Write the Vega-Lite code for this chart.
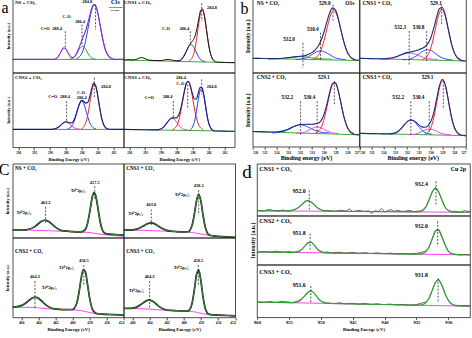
{
"$schema":"https://vega.github.io/schema/vega-lite/v6.json",
"padding":{"left":-2.3,"top":-2.3,"right":0,"bottom":0},
"config":{
 "view":{"stroke":"#222","strokeWidth":0.8},
 "axis":{"grid":false,"domain":false,"labelFont":"Liberation Serif","titleFont":"Liberation Serif","labelFontWeight":"bold","titleFontWeight":"bold","labelColor":"#000","titleColor":"#000","tickColor":"#000","tickWidth":0.7},
 "line":{"interpolate":"monotone","clip":true,"strokeWidth":1},
 "rule":{"strokeDash":[2,1.5],"strokeWidth":0.7,"color":"#111"},
 "text":{"font":"Liberation Serif","fontWeight":"bold","baseline":"middle","color":"#000"}
},
"datasets":{
"a1_comp":[{"s":"bg","x":294.7,"y":18},{"s":"bg","x":280.7,"y":18},
{"s":"CO","x":287.55,"y":18.2},{"s":"CO","x":287.0,"y":20.4},{"s":"CO","x":286.725,"y":23.8},{"s":"CO","x":286.45,"y":28.9},{"s":"CO","x":286.175,"y":33.9},{"s":"CO","x":285.9,"y":36},{"s":"CO","x":285.625,"y":33.9},{"s":"CO","x":285.35,"y":28.9},{"s":"CO","x":285.075,"y":23.8},{"s":"CO","x":284.8,"y":20.4},{"s":"CO","x":284.25,"y":18.2},
{"s":"CC","x":286.65,"y":18.8},{"s":"CC","x":285.9,"y":28},{"s":"CC","x":285.525,"y":42},{"s":"CC","x":285.15,"y":62.9},{"s":"CC","x":284.775,"y":83.3},{"s":"CC","x":284.4,"y":92},{"s":"CC","x":284.025,"y":83.3},{"s":"CC","x":283.65,"y":62.9},{"s":"CC","x":283.275,"y":42},{"s":"CC","x":282.9,"y":28},{"s":"CC","x":282.15,"y":18.8}],
"a1_fit":[{"x":294.7,"y":18},{"x":293,"y":18},{"x":291,"y":18},{"x":290,"y":18},{"x":289.5,"y":18.2},{"x":289,"y":21.2},{"x":288.75,"y":25.4},{"x":288.5,"y":30.5},{"x":288.25,"y":33.5},{"x":288,"y":32.1},{"x":287.75,"y":27.6},{"x":287.5,"y":22.9},{"x":287.25,"y":20.6},{"x":287,"y":21},{"x":286.75,"y":24.1},{"x":286.5,"y":29.4},{"x":286.25,"y":36.2},{"x":286,"y":43.3},{"x":285.75,"y":49.9},{"x":285.5,"y":57},{"x":285.25,"y":65.8},{"x":285,"y":76.4},{"x":284.75,"y":86.4},{"x":284.5,"y":92},{"x":284.25,"y":90.7},{"x":284,"y":82.2},{"x":283.75,"y":68.8},{"x":283.5,"y":54},{"x":283.25,"y":40.8},{"x":283,"y":31},{"x":282.5,"y":21},{"x":282,"y":18.4},{"x":281.5,"y":18},{"x":280.7,"y":18}],
"a1_dash":[{"x":288.06,"y":56,"y2":34},{"x":285.96,"y":65,"y2":38},{"x":284.25,"y":92,"y2":58}],
"a1_text":[{"k":"ttl","x":294.42,"y":95.5,"t":"NS + CO₂"},{"k":"lab","x":290.6,"y":59.6,"t":"C=O"},{"k":"lab","x":289.1,"y":59.6,"t":"288.4"},{"k":"lab","x":287.9,"y":75,"t":"C-O"},{"k":"lab","x":286.2,"y":68.6,"t":"286.4"},{"k":"lab","x":285.3,"y":95.5,"t":"284.8"},{"k":"rt","x":281.2,"y":95.5,"t":"C1s"},{"k":"small","x":281.8,"y":89,"t":"Adventitious"},{"k":"small","x":281.8,"y":84.5,"t":"carbon"},{"k":"letter","x":295.67,"y":80,"t":"a"}],
"a2_comp":[{"s":"bg","x":294.7,"y":17},{"s":"bg","x":280.7,"y":13.5},
{"s":"CO","x":288,"y":15.6},{"s":"CO","x":287.4,"y":18.2},{"s":"CO","x":287.1,"y":22.5},{"s":"CO","x":286.8,"y":28.9},{"s":"CO","x":286.5,"y":35.2},{"s":"CO","x":286.2,"y":37.9},{"s":"CO","x":285.9,"y":35.2},{"s":"CO","x":285.6,"y":28.7},{"s":"CO","x":285.3,"y":22.2},{"s":"CO","x":285,"y":17.7},{"s":"CO","x":284.4,"y":14.7},
{"s":"CC","x":286.45,"y":15.7},{"s":"CC","x":285.9,"y":24.3},{"s":"CC","x":285.625,"y":37.7},{"s":"CC","x":285.35,"y":57.5},{"s":"CC","x":285.075,"y":76.9},{"s":"CC","x":284.8,"y":85.2},{"s":"CC","x":284.525,"y":76.9},{"s":"CC","x":284.25,"y":57.3},{"s":"CC","x":283.975,"y":37.3},{"s":"CC","x":283.7,"y":24},{"s":"CC","x":283.15,"y":15}],
"a2_fit":[{"x":294.7,"y":17},{"x":294,"y":17.6},{"x":293.5,"y":17.2},{"x":293,"y":18.5},{"x":292.5,"y":20.5},{"x":292,"y":19},{"x":291.5,"y":17},{"x":291,"y":16.5},{"x":290,"y":16.3},{"x":289.5,"y":17.5},{"x":289,"y":17.8},{"x":288.5,"y":16.8},{"x":288,"y":16},{"x":287.75,"y":16.1},{"x":287.5,"y":17.4},{"x":287.25,"y":20.1},{"x":287,"y":24.6},{"x":286.75,"y":30.2},{"x":286.5,"y":35.8},{"x":286.25,"y":40.1},{"x":286,"y":43.1},{"x":285.75,"y":48.1},{"x":285.5,"y":57.8},{"x":285.25,"y":71.8},{"x":285,"y":83.9},{"x":284.75,"y":86.1},{"x":284.5,"y":75.8},{"x":284.25,"y":57.4},{"x":284,"y":38.8},{"x":283.75,"y":25.7},{"x":283.5,"y":18.5},{"x":283.25,"y":15.5},{"x":283,"y":14.4},{"x":282.5,"y":14},{"x":282,"y":13.8},{"x":281.5,"y":13.7},{"x":280.7,"y":13.5}],
"a2_dash":[{"x":286.3,"y":56,"y2":40.4},{"x":284.86,"y":94,"y2":69.5}],
"a2_text":[{"k":"ttl","x":294.63,"y":95.5,"t":"CNS1 + CO₂"},{"k":"lab","x":289.37,"y":59.6,"t":"C-O"},{"k":"lab","x":287.05,"y":59.6,"t":"286.4"},{"k":"lab","x":283.56,"y":87.4,"t":"284.8"}],
"a3_comp":[{"s":"bg","x":294.7,"y":24},{"s":"bg","x":280.7,"y":24},
{"s":"C=O","x":289.8,"y":24.1},{"s":"C=O","x":289.2,"y":25.4},{"s":"C=O","x":288.9,"y":27.2},{"s":"C=O","x":288.6,"y":30.1},{"s":"C=O","x":288.3,"y":32.8},{"s":"C=O","x":288,"y":34},{"s":"C=O","x":287.7,"y":32.8},{"s":"C=O","x":287.4,"y":30.1},{"s":"C=O","x":287.1,"y":27.2},{"s":"C=O","x":286.8,"y":25.4},{"s":"C=O","x":286.2,"y":24.1},
{"s":"CO","x":287.8,"y":24.4},{"s":"CO","x":287.2,"y":29.1},{"s":"CO","x":286.9,"y":36.3},{"s":"CO","x":286.6,"y":47},{"s":"CO","x":286.3,"y":57.5},{"s":"CO","x":286,"y":62},{"s":"CO","x":285.7,"y":57.5},{"s":"CO","x":285.4,"y":47},{"s":"CO","x":285.1,"y":36.3},{"s":"CO","x":284.8,"y":29.1},{"s":"CO","x":284.2,"y":24.4},
{"s":"CC","x":286.05,"y":24.7},{"s":"CC","x":285.5,"y":32.3},{"s":"CC","x":285.225,"y":43.8},{"s":"CC","x":284.95,"y":61},{"s":"CC","x":284.675,"y":77.8},{"s":"CC","x":284.4,"y":85},{"s":"CC","x":284.125,"y":77.8},{"s":"CC","x":283.85,"y":61},{"s":"CC","x":283.575,"y":43.8},{"s":"CC","x":283.3,"y":32.3},{"s":"CC","x":282.75,"y":24.7}],
"a3_fit":[{"x":294.7,"y":24},{"x":292,"y":24},{"x":290.5,"y":24},{"x":290,"y":24},{"x":289.5,"y":24.4},{"x":289.25,"y":25.1},{"x":289,"y":26.5},{"x":288.75,"y":28.6},{"x":288.5,"y":31.1},{"x":288.25,"y":33.2},{"x":288,"y":34.2},{"x":287.75,"y":33.7},{"x":287.5,"y":32.8},{"x":287.25,"y":32.9},{"x":287,"y":36},{"x":286.75,"y":42.5},{"x":286.5,"y":51.3},{"x":286.25,"y":59.1},{"x":286,"y":62.9},{"x":285.75,"y":61.8},{"x":285.5,"y":59.2},{"x":285.25,"y":59.9},{"x":285,"y":67.1},{"x":284.75,"y":78.1},{"x":284.5,"y":85.7},{"x":284.25,"y":83.3},{"x":284,"y":71},{"x":283.75,"y":54.3},{"x":283.5,"y":40},{"x":283.25,"y":30.9},{"x":283,"y":26.4},{"x":282.75,"y":24.7},{"x":282.5,"y":24.1},{"x":281,"y":24},{"x":280.7,"y":24}],
"a3_dash":[{"x":287.9,"y":61.9,"y2":35},{"x":284.4,"y":93.3,"y2":66.4}],
"a3_text":[{"k":"ttl","x":294.42,"y":94.2,"t":"CNS2 + CO₂"},{"k":"lab","x":289.66,"y":67.7,"t":"C=O"},{"k":"lab","x":288.1,"y":67.7,"t":"288.4"},{"k":"lab","x":286.08,"y":73,"t":"C-O"},{"k":"lab","x":286.0,"y":66,"t":"286.4"},{"k":"lab","x":282.93,"y":80.7,"t":"284.8"}],
"a4_comp":[{"s":"bg","x":294.8,"y":24},{"s":"bg","x":280.7,"y":21.5},
{"s":"C=O","x":290.55,"y":23},{"s":"C=O","x":289.9,"y":25.1},{"s":"C=O","x":289.575,"y":28.1},{"s":"C=O","x":289.25,"y":32.6},{"s":"C=O","x":288.925,"y":37},{"s":"C=O","x":288.6,"y":38.9},{"s":"C=O","x":288.275,"y":37},{"s":"C=O","x":287.95,"y":32.6},{"s":"C=O","x":287.625,"y":28.1},{"s":"C=O","x":287.3,"y":25.1},{"s":"C=O","x":286.65,"y":23},
{"s":"CO","x":288.55,"y":23.2},{"s":"CO","x":287.9,"y":31.4},{"s":"CO","x":287.575,"y":43.9},{"s":"CO","x":287.25,"y":62.5},{"s":"CO","x":286.925,"y":80.7},{"s":"CO","x":286.6,"y":88.5},{"s":"CO","x":286.275,"y":80.7},{"s":"CO","x":285.95,"y":62.5},{"s":"CO","x":285.625,"y":43.9},{"s":"CO","x":285.3,"y":31.4},{"s":"CO","x":284.65,"y":23.2},
{"s":"CC","x":286.4,"y":22.8},{"s":"CC","x":285.9,"y":29.9},{"s":"CC","x":285.65,"y":40.7},{"s":"CC","x":285.4,"y":56.8},{"s":"CC","x":285.15,"y":72.5},{"s":"CC","x":284.9,"y":79.2},{"s":"CC","x":284.65,"y":72.5},{"s":"CC","x":284.4,"y":56.8},{"s":"CC","x":284.15,"y":40.7},{"s":"CC","x":283.9,"y":29.9},{"s":"CC","x":283.4,"y":22.8}],
"a4_fit":[{"x":294.8,"y":24},{"x":292.3,"y":23.5},{"x":290.8,"y":23.3},{"x":290.3,"y":23.7},{"x":289.8,"y":26},{"x":289.55,"y":28.5},{"x":289.3,"y":32},{"x":289.05,"y":35.6},{"x":288.8,"y":38.4},{"x":288.55,"y":39.5},{"x":288.3,"y":39.4},{"x":288.05,"y":39.4},{"x":287.8,"y":42.2},{"x":287.55,"y":49.7},{"x":287.3,"y":61.8},{"x":287.05,"y":75.4},{"x":286.8,"y":85.9},{"x":286.55,"y":88.6},{"x":286.3,"y":82.9},{"x":286.05,"y":72.5},{"x":285.8,"y":64.7},{"x":285.55,"y":64.7},{"x":285.3,"y":72.6},{"x":285.05,"y":80.5},{"x":284.8,"y":79.5},{"x":284.55,"y":67.2},{"x":284.3,"y":49.9},{"x":284.05,"y":35.4},{"x":283.8,"y":27.1},{"x":283.55,"y":23.4},{"x":283.3,"y":22.2},{"x":282.8,"y":21.8},{"x":281.8,"y":21.6},{"x":280.7,"y":21.5}],
"a4_dash":[{"x":288.44,"y":61.9,"y2":39.5},{"x":286.63,"y":84,"y2":52.9},{"x":284.86,"y":91,"y2":70.9}],
"a4_text":[{"k":"ttl","x":294.63,"y":94.2,"t":"CNS3 + CO₂"},{"k":"lab","x":287.47,"y":93,"t":"286.4"},{"k":"lab","x":287.56,"y":85.5,"t":"C-O"},{"k":"lab","x":291.47,"y":65.5,"t":"C=O"},{"k":"lab","x":289.16,"y":67.3,"t":"288.4"},{"k":"lab","x":283.6,"y":80.7,"t":"284.8"}],
"b1_comp":[{"s":"bg","x":536,"y":19.5},{"s":"bg","x":527,"y":16.5},
{"s":"O532","x":534.7,"y":18.2},{"s":"O532","x":533.8,"y":18.7},{"s":"O532","x":533.35,"y":19.3},{"s":"O532","x":532.9,"y":20.3},{"s":"O532","x":532.45,"y":21.3},{"s":"O532","x":532,"y":21.7},{"s":"O532","x":531.55,"y":21.3},{"s":"O532","x":531.1,"y":20.3},{"s":"O532","x":530.65,"y":19.3},{"s":"O532","x":530.2,"y":18.7},{"s":"O532","x":529.3,"y":18.2},
{"s":"O530","x":532.35,"y":17.7},{"s":"O530","x":531.65,"y":19.2},{"s":"O530","x":531.3,"y":21.5},{"s":"O530","x":530.95,"y":24.9},{"s":"O530","x":530.6,"y":28.2},{"s":"O530","x":530.25,"y":29.6},{"s":"O530","x":529.9,"y":28.2},{"s":"O530","x":529.55,"y":24.9},{"s":"O530","x":529.2,"y":21.5},{"s":"O530","x":528.85,"y":19.2},{"s":"O530","x":528.15,"y":17.7},
{"s":"O529","x":530.95,"y":17.9},{"s":"O529","x":530.35,"y":26.3},{"s":"O529","x":530.05,"y":39},{"s":"O529","x":529.75,"y":57.8},{"s":"O529","x":529.45,"y":76.3},{"s":"O529","x":529.15,"y":84.2},{"s":"O529","x":528.85,"y":76.3},{"s":"O529","x":528.55,"y":57.8},{"s":"O529","x":528.25,"y":39},{"s":"O529","x":527.95,"y":26.3},{"s":"O529","x":527.35,"y":17.9}],
"b1_fit":[{"x":536,"y":19.5},{"x":535,"y":19.2},{"x":534.5,"y":19.1},{"x":534,"y":19.1},{"x":533.5,"y":19.5},{"x":533,"y":20.4},{"x":532.5,"y":21.4},{"x":532,"y":22.2},{"x":531.5,"y":23.4},{"x":531.25,"y":24.9},{"x":531,"y":27.1},{"x":530.75,"y":30.3},{"x":530.5,"y":35.1},{"x":530.25,"y":42.5},{"x":530,"y":53.6},{"x":529.75,"y":67.6},{"x":529.5,"y":80.7},{"x":529.25,"y":87.6},{"x":529,"y":84.5},{"x":528.75,"y":72},{"x":528.5,"y":54.7},{"x":528.25,"y":38.9},{"x":528,"y":27.5},{"x":527.75,"y":21.2},{"x":527.5,"y":18.2},{"x":527.25,"y":17.1},{"x":527,"y":16.6}],
"b1_dash":[{"x":529.21,"y":92,"y2":69.8},{"x":530.27,"y":54,"y2":15.8},{"x":531.75,"y":40.5,"y2":6.8}],
"b1_text":[{"k":"ttl","x":535.66,"y":94.5,"t":"NS + CO₂"},{"k":"rt","x":527.4,"y":94.5,"t":"O1s"},{"k":"lab","x":529.91,"y":94.5,"t":"529.0"},{"k":"lab","x":530.92,"y":58.6,"t":"530.4"},{"k":"lab","x":532.93,"y":45,"t":"532.0"},{"k":"letter","x":536.7,"y":79.3,"t":"b"}],
"b2_comp":[{"s":"bg","x":536,"y":19.4},{"s":"bg","x":527,"y":15.8},
{"s":"O532","x":534.2,"y":17.8},{"s":"O532","x":533.4,"y":18.9},{"s":"O532","x":533,"y":20.6},{"s":"O532","x":532.6,"y":23.2},{"s":"O532","x":532.2,"y":25.6},{"s":"O532","x":531.8,"y":26.7},{"s":"O532","x":531.4,"y":25.6},{"s":"O532","x":531,"y":23.2},{"s":"O532","x":530.6,"y":20.6},{"s":"O532","x":530.2,"y":18.9},{"s":"O532","x":529.4,"y":17.8},
{"s":"O530","x":532.35,"y":17.3},{"s":"O530","x":531.65,"y":19},{"s":"O530","x":531.3,"y":21.6},{"s":"O530","x":530.95,"y":25.6},{"s":"O530","x":530.6,"y":29.5},{"s":"O530","x":530.25,"y":31.1},{"s":"O530","x":529.9,"y":29.5},{"s":"O530","x":529.55,"y":25.6},{"s":"O530","x":529.2,"y":21.6},{"s":"O530","x":528.85,"y":19},{"s":"O530","x":528.15,"y":17.3},
{"s":"O529","x":530.7,"y":17.4},{"s":"O529","x":530.15,"y":25.9},{"s":"O529","x":529.875,"y":39},{"s":"O529","x":529.6,"y":58.4},{"s":"O529","x":529.325,"y":77.5},{"s":"O529","x":529.05,"y":85.6},{"s":"O529","x":528.775,"y":77.5},{"s":"O529","x":528.5,"y":58.4},{"s":"O529","x":528.225,"y":39},{"s":"O529","x":527.95,"y":25.9},{"s":"O529","x":527.4,"y":17.4}],
"b2_fit":[{"x":536,"y":19.4},{"x":535,"y":19},{"x":534.5,"y":18.8},{"x":534,"y":18.8},{"x":533.5,"y":19.3},{"x":533,"y":21.1},{"x":532.5,"y":24.2},{"x":532,"y":27.1},{"x":531.5,"y":28.8},{"x":531.25,"y":29.6},{"x":531,"y":30.9},{"x":530.75,"y":32.6},{"x":530.5,"y":34.8},{"x":530.25,"y":38.9},{"x":530,"y":46.3},{"x":529.75,"y":58.8},{"x":529.5,"y":74.3},{"x":529.25,"y":86.4},{"x":529,"y":88.1},{"x":528.75,"y":77.4},{"x":528.5,"y":58.8},{"x":528.25,"y":40.4},{"x":528,"y":27.5},{"x":527.75,"y":20.3},{"x":527.5,"y":17.3},{"x":527.25,"y":16.2},{"x":527,"y":15.8}],
"b2_dash":[{"x":529.06,"y":92,"y2":65.3},{"x":530.33,"y":56.3,"y2":15.8},{"x":531.81,"y":56.3,"y2":9}],
"b2_text":[{"k":"ttl","x":535.77,"y":94.5,"t":"CNS1 + CO₂"},{"k":"lab","x":529.54,"y":94.5,"t":"529.1"},{"k":"lab","x":531.01,"y":61.7,"t":"530.8"},{"k":"lab","x":532.57,"y":61.7,"t":"532.3"}],
"b3_comp":[{"s":"bg","x":536,"y":20.5},{"s":"bg","x":527,"y":16},
{"s":"O532","x":534.35,"y":18.6},{"s":"O532","x":533.55,"y":20},{"s":"O532","x":533.15,"y":22.1},{"s":"O532","x":532.75,"y":25.2},{"s":"O532","x":532.35,"y":28.2},{"s":"O532","x":531.95,"y":29.5},{"s":"O532","x":531.55,"y":28.2},{"s":"O532","x":531.15,"y":25.2},{"s":"O532","x":530.75,"y":22.1},{"s":"O532","x":530.35,"y":20},{"s":"O532","x":529.55,"y":18.6},
{"s":"O530","x":532.35,"y":17.9},{"s":"O530","x":531.75,"y":19},{"s":"O530","x":531.45,"y":20.7},{"s":"O530","x":531.15,"y":23.3},{"s":"O530","x":530.85,"y":25.7},{"s":"O530","x":530.55,"y":26.8},{"s":"O530","x":530.25,"y":25.7},{"s":"O530","x":529.95,"y":23.3},{"s":"O530","x":529.65,"y":20.7},{"s":"O530","x":529.35,"y":19},{"s":"O530","x":528.75,"y":17.9},
{"s":"O529","x":530.75,"y":17.9},{"s":"O529","x":530.2,"y":26.5},{"s":"O529","x":529.925,"y":39.8},{"s":"O529","x":529.65,"y":59.5},{"s":"O529","x":529.375,"y":78.8},{"s":"O529","x":529.1,"y":87.1},{"s":"O529","x":528.825,"y":78.8},{"s":"O529","x":528.55,"y":59.5},{"s":"O529","x":528.275,"y":39.8},{"s":"O529","x":528,"y":26.5},{"s":"O529","x":527.45,"y":17.9}],
"b3_fit":[{"x":536,"y":20.5},{"x":535,"y":20},{"x":534.5,"y":19.8},{"x":534,"y":19.9},{"x":533.5,"y":21},{"x":533,"y":23.6},{"x":532.5,"y":27.5},{"x":532,"y":30},{"x":531.5,"y":30.3},{"x":531.25,"y":30.2},{"x":531,"y":30.4},{"x":530.75,"y":30.8},{"x":530.5,"y":31.6},{"x":530.25,"y":34.6},{"x":530,"y":42.3},{"x":529.75,"y":56.1},{"x":529.5,"y":73},{"x":529.25,"y":85.4},{"x":529,"y":86.2},{"x":528.75,"y":74.2},{"x":528.5,"y":55.4},{"x":528.25,"y":37.8},{"x":528,"y":26},{"x":527.75,"y":19.8},{"x":527.5,"y":17.3},{"x":527.25,"y":16.4},{"x":527,"y":16}],
"b3_dash":[{"x":529.1,"y":88.6,"y2":56.8},{"x":530.55,"y":61.4,"y2":18.2},{"x":531.95,"y":61.4,"y2":15.9}],
"b3_text":[{"k":"ttl","x":535.66,"y":94.1,"t":"CNS2 + CO₂"},{"k":"lab","x":529.99,"y":94.1,"t":"529.1"},{"k":"lab","x":531.2,"y":67.3,"t":"530.4"},{"k":"lab","x":533.07,"y":67.3,"t":"532.2"}],
"b4_comp":[{"s":"bg","x":536,"y":18},{"s":"bg","x":527,"y":15},
{"s":"O532","x":533.47,"y":16.8},{"s":"O532","x":532.87,"y":19.2},{"s":"O532","x":532.57,"y":22.9},{"s":"O532","x":532.27,"y":28.4},{"s":"O532","x":531.97,"y":33.8},{"s":"O532","x":531.67,"y":36.1},{"s":"O532","x":531.37,"y":33.8},{"s":"O532","x":531.07,"y":28.4},{"s":"O532","x":530.77,"y":22.9},{"s":"O532","x":530.47,"y":19.2},{"s":"O532","x":529.87,"y":16.8},
{"s":"O530","x":531.9,"y":16.1},{"s":"O530","x":531.3,"y":17.1},{"s":"O530","x":531,"y":18.6},{"s":"O530","x":530.7,"y":20.9},{"s":"O530","x":530.4,"y":23.1},{"s":"O530","x":530.1,"y":24},{"s":"O530","x":529.8,"y":23.1},{"s":"O530","x":529.5,"y":20.9},{"s":"O530","x":529.2,"y":18.6},{"s":"O530","x":528.9,"y":17.1},{"s":"O530","x":528.3,"y":16.1},
{"s":"O529","x":530.47,"y":16.5},{"s":"O529","x":529.97,"y":25.7},{"s":"O529","x":529.72,"y":39.7},{"s":"O529","x":529.47,"y":60.5},{"s":"O529","x":529.22,"y":81},{"s":"O529","x":528.97,"y":89.7},{"s":"O529","x":528.72,"y":81},{"s":"O529","x":528.47,"y":60.5},{"s":"O529","x":528.22,"y":39.7},{"s":"O529","x":527.97,"y":25.7},{"s":"O529","x":527.47,"y":16.5}],
"b4_fit":[{"x":536,"y":18},{"x":535,"y":17.7},{"x":534.5,"y":17.5},{"x":534,"y":17.3},{"x":533.5,"y":17.4},{"x":533,"y":18.7},{"x":532.75,"y":20.8},{"x":532.5,"y":24.3},{"x":532.25,"y":29},{"x":532,"y":33.5},{"x":531.75,"y":36.1},{"x":531.5,"y":35.7},{"x":531.25,"y":33},{"x":531,"y":29.5},{"x":530.75,"y":26.8},{"x":530.5,"y":26.2},{"x":530.25,"y":27.8},{"x":530,"y":33.2},{"x":529.75,"y":44.6},{"x":529.5,"y":63},{"x":529.25,"y":82},{"x":529,"y":91.1},{"x":528.75,"y":83.4},{"x":528.5,"y":63.3},{"x":528.25,"y":41.8},{"x":528,"y":26.6},{"x":527.75,"y":19.1},{"x":527.5,"y":16.2},{"x":527.25,"y":15.3},{"x":527,"y":15}],
"b4_dash":[{"x":528.92,"y":88.6,"y2":52.3},{"x":530.11,"y":61.4,"y2":18.2},{"x":531.67,"y":61.4,"y2":15.9}],
"b4_text":[{"k":"ttl","x":535.77,"y":94.1,"t":"CNS3  + CO₂"},{"k":"lab","x":530.25,"y":94.1,"t":"529.1"},{"k":"lab","x":531.01,"y":67.3,"t":"530.4"},{"k":"lab","x":532.74,"y":67.3,"t":"532.2"}],
"c1_bg":[{"x":467,"y":10.5},{"x":465,"y":10.2},{"x":463,"y":9.5},{"x":461,"y":8.7},{"x":459,"y":7.8},{"x":458,"y":7},{"x":457,"y":5.2},{"x":456,"y":3.8},{"x":455,"y":2.8},{"x":454,"y":2}],
"c1_fit":[{"x":467,"y":10.5},{"x":466,"y":10.4},{"x":465.5,"y":10.6},{"x":465,"y":11.7},{"x":464.5,"y":14.3},{"x":464.25,"y":16.4},{"x":464,"y":18.85},{"x":463.75,"y":21.2},{"x":463.5,"y":22.9},{"x":463.25,"y":23.6},{"x":463,"y":23.1},{"x":462.75,"y":21.6},{"x":462.5,"y":19.3},{"x":462.25,"y":16.7},{"x":462,"y":14.3},{"x":461.5,"y":10.8},{"x":461,"y":9.2},{"x":460,"y":8.25},{"x":459,"y":7.95},{"x":458.5,"y":11},{"x":458.25,"y":18.5},{"x":458,"y":33.1},{"x":457.75,"y":50.55},{"x":457.5,"y":60.8},{"x":457.25,"y":55.45},{"x":457,"y":38.6},{"x":456.75,"y":21.25},{"x":456.5,"y":10.4},{"x":456.25,"y":6.5},{"x":456,"y":5.2},{"x":455,"y":4.3},{"x":454,"y":3.5}],
"c1_dash":[{"x":457.39,"y":69.5,"y2":50.7},{"x":463.15,"y":41.7,"y2":19.3}],
"c1_text":[{"k":"ttl","x":466.73,"y":94.5,"t":"NS + CO₂"},{"k":"lab","x":457.39,"y":74,"t":"457.5"},{"k":"lab","x":459.33,"y":63.2,"t":"Ti⁴⁺2p₃/₂"},{"k":"lab","x":463.15,"y":47.1,"t":"463.2"},{"k":"lab","x":465.7,"y":32.7,"t":"Ti⁴⁺2p₁/₂"},{"k":"letter","x":468.0,"y":85.2,"t":"C"}],
"c2_bg":[{"x":467,"y":10.3},{"x":465,"y":10},{"x":463,"y":9.2},{"x":461,"y":8.3},{"x":460,"y":7.8},{"x":459,"y":7},{"x":458,"y":5},{"x":457,"y":3},{"x":456,"y":1.8},{"x":455,"y":1},{"x":454,"y":0.5}],
"c2_fit":[{"x":467,"y":10.3},{"x":466,"y":10.5},{"x":465.5,"y":11.5},{"x":465,"y":13.9},{"x":464.5,"y":17.3},{"x":464.25,"y":18.8},{"x":464,"y":19.8},{"x":463.75,"y":20},{"x":463.5,"y":19.3},{"x":463.25,"y":17.8},{"x":463,"y":15.9},{"x":462.5,"y":12.3},{"x":462,"y":9.85},{"x":461.5,"y":8.8},{"x":461,"y":8.35},{"x":460,"y":7.8},{"x":459.5,"y":8},{"x":459,"y":17.8},{"x":458.75,"y":32.6},{"x":458.5,"y":50.4},{"x":458.25,"y":58.5},{"x":458,"y":49.4},{"x":457.75,"y":30.6},{"x":457.5,"y":14.8},{"x":457.25,"y":6.6},{"x":457,"y":3.6},{"x":456.5,"y":2.4},{"x":456,"y":1.8},{"x":455,"y":1},{"x":454,"y":0.5}],
"c2_dash":[{"x":458.26,"y":64.1,"y2":30.5},{"x":463.79,"y":38.1,"y2":17}],
"c2_text":[{"k":"ttl","x":466.69,"y":94.5,"t":"CNS1 + CO₂"},{"k":"lab","x":458.26,"y":69.5,"t":"458.2"},{"k":"lab","x":460.19,"y":57.4,"t":"Ti⁴⁺2p₃/₂"},{"k":"lab","x":463.79,"y":43.9,"t":"463.8"},{"k":"lab","x":465.6,"y":31.8,"t":"Ti⁴⁺2p₁/₂"}],
"c3_bg":[{"x":467,"y":13},{"x":465,"y":12.5},{"x":464,"y":12},{"x":463,"y":11},{"x":462,"y":10.3},{"x":460,"y":9.3},{"x":459,"y":8.5},{"x":458.5,"y":7.5},{"x":458,"y":6},{"x":457,"y":4.5},{"x":456,"y":3.8},{"x":454,"y":3}],
"c3_fit":[{"x":467,"y":13},{"x":466.5,"y":13.4},{"x":466,"y":14.75},{"x":465.5,"y":17.8},{"x":465,"y":22.2},{"x":464.75,"y":24},{"x":464.5,"y":25.05},{"x":464.25,"y":25},{"x":464,"y":23.9},{"x":463.75,"y":21.85},{"x":463.5,"y":19.4},{"x":463.25,"y":16.85},{"x":463,"y":14.7},{"x":462.5,"y":11.85},{"x":462,"y":10.6},{"x":461.5,"y":10.05},{"x":461,"y":9.8},{"x":460,"y":9.9},{"x":459.5,"y":17.8},{"x":459.25,"y":30.5},{"x":459,"y":47.7},{"x":458.75,"y":59.7},{"x":458.5,"y":57.6},{"x":458.25,"y":42.45},{"x":458,"y":24.7},{"x":457.75,"y":12.8},{"x":457.5,"y":7.25},{"x":457.25,"y":5.3},{"x":457,"y":4.55},{"x":456.5,"y":4.15},{"x":456,"y":3.8},{"x":455,"y":3.4},{"x":454,"y":3}],
"c3_dash":[{"x":458.67,"y":65.7,"y2":40.6},{"x":464.39,"y":45.6,"y2":11.3}],
"c3_text":[{"k":"ttl","x":466.73,"y":83.3,"t":"CNS2 + CO₂"},{"k":"lab","x":458.67,"y":70.7,"t":"458.5"},{"k":"lab","x":460.7,"y":61.5,"t":"Ti⁴⁺2p₃/₂"},{"k":"lab","x":464.39,"y":51,"t":"464.3"},{"k":"lab","x":462.72,"y":36.4,"t":"Ti⁴⁺2p₁/₂"}],
"c4_bg":[{"x":467,"y":11.3},{"x":465,"y":10.8},{"x":464,"y":10.3},{"x":463,"y":9.5},{"x":462,"y":8.8},{"x":460,"y":8},{"x":459,"y":7.3},{"x":458.5,"y":6.5},{"x":458,"y":5},{"x":457,"y":3.5},{"x":456,"y":2.8},{"x":454,"y":2}],
"c4_fit":[{"x":467,"y":11.3},{"x":466.5,"y":11.3},{"x":466,"y":11.55},{"x":465.5,"y":12.9},{"x":465,"y":16.1},{"x":464.75,"y":18.1},{"x":464.5,"y":20.05},{"x":464.25,"y":21.3},{"x":464,"y":21.8},{"x":463.75,"y":21},{"x":463.5,"y":19.4},{"x":463.25,"y":17.1},{"x":463,"y":14.8},{"x":462.5,"y":11.15},{"x":462,"y":9.3},{"x":461.5,"y":8.7},{"x":461,"y":8.4},{"x":460,"y":8},{"x":459.5,"y":8.25},{"x":459.25,"y":10.7},{"x":459,"y":19},{"x":458.75,"y":35.6},{"x":458.5,"y":54.1},{"x":458.25,"y":59.35},{"x":458,"y":45.8},{"x":457.75,"y":25.6},{"x":457.5,"y":11.55},{"x":457.25,"y":5.6},{"x":457,"y":3.8},{"x":456.5,"y":3.15},{"x":456,"y":2.8},{"x":455,"y":2.4},{"x":454,"y":2}],
"c4_dash":[{"x":458.3,"y":65.7,"y2":40.6},{"x":463.98,"y":45.6,"y2":11.3}],
"c4_text":[{"k":"ttl","x":466.69,"y":83.3,"t":"CNS3  + CO₂"},{"k":"lab","x":458.3,"y":70.7,"t":"458.5"},{"k":"lab","x":460.31,"y":61.5,"t":"Ti⁴⁺2p₃/₂"},{"k":"lab","x":463.98,"y":51,"t":"464.3"},{"k":"lab","x":465.53,"y":33,"t":"Ti⁴⁺2p₁/₂"}],
"d1_bg":[{"x":960,"y":9.5},{"x":926.6,"y":6.5}],
"d1_fit":[{"x":960,"y":9.5},{"x":956,"y":9.1},{"x":955,"y":9.25},{"x":954.5,"y":9.9},{"x":954,"y":11.7},{"x":953.5,"y":15.4},{"x":953,"y":21},{"x":952.5,"y":26.5},{"x":952,"y":28.8},{"x":951.5,"y":26.4},{"x":951,"y":20.8},{"x":950.5,"y":15.15},{"x":950,"y":11.3},{"x":949.5,"y":9.5},{"x":949,"y":8.7},{"x":945,"y":8.15},{"x":940,"y":7.7},{"x":936,"y":7.34},{"x":935,"y":7.3},{"x":934.5,"y":7.8},{"x":934,"y":10.1},{"x":933.5,"y":16.8},{"x":933,"y":30.1},{"x":932.5,"y":45.7},{"x":932,"y":53},{"x":931.5,"y":45.6},{"x":931,"y":29.9},{"x":930.5,"y":16.55},{"x":930,"y":9.7},{"x":929.5,"y":7.4},{"x":929,"y":6.8},{"x":928,"y":6.6},{"x":926.6,"y":6.5}],
"d1_raw":[{"x":960,"y":10.5},{"x":959.5,"y":9.2},{"x":959,"y":9},{"x":958.5,"y":10.8},{"x":958,"y":12},{"x":957.5,"y":10},{"x":957,"y":9.5},{"x":956.5,"y":8.8},{"x":956,"y":10.8},{"x":955.5,"y":9.8},{"x":955,"y":9},{"x":954.5,"y":10.5},{"x":954,"y":12.5},{"x":953.5,"y":16},{"x":953,"y":22},{"x":952.5,"y":27.5},{"x":952,"y":29.5},{"x":951.5,"y":25.5},{"x":951,"y":21.5},{"x":950.5,"y":14.5},{"x":950,"y":12},{"x":949.5,"y":9},{"x":949,"y":10.2},{"x":948.5,"y":9.5},{"x":948,"y":8.5},{"x":947.5,"y":9.2},{"x":947,"y":10.5},{"x":946.5,"y":9.8},{"x":946,"y":9},{"x":945.5,"y":13},{"x":945,"y":8},{"x":944.5,"y":9.2},{"x":944,"y":10},{"x":943.5,"y":9},{"x":943,"y":8.5},{"x":942.5,"y":9.5},{"x":942,"y":4.5},{"x":941.5,"y":9.5},{"x":941,"y":8},{"x":940.5,"y":13.5},{"x":940,"y":7.5},{"x":939.5,"y":9.5},{"x":939,"y":12},{"x":938.5,"y":8},{"x":938,"y":10.5},{"x":937.5,"y":9},{"x":937,"y":8},{"x":936.5,"y":9.5},{"x":936,"y":10},{"x":935.5,"y":8},{"x":935,"y":8.5},{"x":934.5,"y":9},{"x":934,"y":11},{"x":933.5,"y":18},{"x":933,"y":31.5},{"x":932.5,"y":47},{"x":932,"y":54},{"x":931.5,"y":44.5},{"x":931,"y":31},{"x":930.5,"y":15.5},{"x":930,"y":10.5},{"x":929.5,"y":8},{"x":929,"y":8.5},{"x":928.5,"y":7.5},{"x":928,"y":7},{"x":927.5,"y":10},{"x":927,"y":8.5},{"x":926.6,"y":8}],
"d1_dash":[{"x":951.8,"y":48.7,"y2":11.5},{"x":931.93,"y":66,"y2":21}],
"d1_text":[{"k":"ttl","x":959.64,"y":89.5,"t":"CNS1 + CO₂"},{"k":"rt","x":927.2,"y":89.5,"t":"Cu 2p"},{"k":"lab","x":953.39,"y":46.8,"t":"952.0"},{"k":"lab","x":934.22,"y":61.5,"t":"932.4"},{"k":"letter","x":961.57,"y":72.8,"t":"d"}],
"d2_bg":[{"x":960,"y":26},{"x":926.6,"y":20}],
"d2_fit":[{"x":960,"y":26},{"x":955,"y":25.1},{"x":954.5,"y":25.05},{"x":954,"y":25.3},{"x":953.5,"y":26.6},{"x":953,"y":30.6},{"x":952.5,"y":38},{"x":952,"y":45.1},{"x":951.5,"y":45.8},{"x":951,"y":39.4},{"x":950.5,"y":31.4},{"x":950,"y":26.5},{"x":949.5,"y":24.6},{"x":949,"y":24.1},{"x":945,"y":23.3},{"x":940,"y":22.4},{"x":935,"y":21.5},{"x":934.5,"y":21.65},{"x":934,"y":22.6},{"x":933.5,"y":26.7},{"x":933,"y":37.2},{"x":932.5,"y":54.2},{"x":932,"y":69.4},{"x":931.5,"y":71},{"x":931,"y":57.5},{"x":930.5,"y":39.7},{"x":930,"y":27.6},{"x":929.5,"y":22.3},{"x":929,"y":20.8},{"x":928,"y":20.25},{"x":926.6,"y":20}],
"d2_raw":[{"x":960,"y":25},{"x":959.5,"y":26},{"x":959,"y":27},{"x":958.5,"y":26},{"x":958,"y":25.5},{"x":957.5,"y":26.5},{"x":957,"y":27.5},{"x":956.5,"y":26.5},{"x":956,"y":26},{"x":955.5,"y":25.5},{"x":955,"y":27},{"x":954.5,"y":25.5},{"x":954,"y":26},{"x":953.5,"y":27.5},{"x":953,"y":31},{"x":952.5,"y":37.5},{"x":952,"y":44},{"x":951.5,"y":46.5},{"x":951,"y":40},{"x":950.5,"y":30.5},{"x":950,"y":27.5},{"x":949.5,"y":25},{"x":949,"y":26},{"x":948.5,"y":24.5},{"x":948,"y":24},{"x":947.5,"y":24.8},{"x":947,"y":25.5},{"x":946.5,"y":24},{"x":946,"y":23.5},{"x":945.5,"y":24.5},{"x":945,"y":25},{"x":944.5,"y":24},{"x":944,"y":23},{"x":943.5,"y":23.8},{"x":943,"y":24.5},{"x":942.5,"y":23.5},{"x":942,"y":23},{"x":941.5,"y":23.8},{"x":941,"y":24},{"x":940.5,"y":23},{"x":940,"y":22.5},{"x":939.5,"y":23.2},{"x":939,"y":23.5},{"x":938.5,"y":22.5},{"x":938,"y":22},{"x":937.5,"y":22.8},{"x":937,"y":23},{"x":936.5,"y":22},{"x":936,"y":21.5},{"x":935.5,"y":22.5},{"x":935,"y":23},{"x":934.5,"y":24.5},{"x":934,"y":26},{"x":933.5,"y":28},{"x":933,"y":36},{"x":932.5,"y":53},{"x":932,"y":70},{"x":931.5,"y":70.5},{"x":931,"y":56},{"x":930.5,"y":41},{"x":930,"y":27},{"x":929.5,"y":23},{"x":929,"y":21.5},{"x":928.5,"y":20.5},{"x":928,"y":20},{"x":927.5,"y":21},{"x":927,"y":21},{"x":926.6,"y":20}],
"d2_dash":[{"x":951.67,"y":63.3,"y2":29.3},{"x":931.67,"y":88.4,"y2":37.4}],
"d2_text":[{"k":"ttl","x":959.64,"y":89,"t":"CNS2 + CO₂"},{"k":"lab","x":953.39,"y":64.6,"t":"951.8"},{"k":"lab","x":934.22,"y":78.2,"t":"932.0"}],
"d3_bg":[{"x":960,"y":29},{"x":926.6,"y":21}],
"d3_fit":[{"x":960,"y":29},{"x":955,"y":27.8},{"x":954.5,"y":27.8},{"x":954,"y":28.2},{"x":953.5,"y":29.9},{"x":953,"y":34.2},{"x":952.5,"y":41.1},{"x":952,"y":47.9},{"x":951.5,"y":49.9},{"x":951,"y":45.2},{"x":950.5,"y":37.6},{"x":950,"y":31.3},{"x":949.5,"y":28},{"x":949,"y":26.7},{"x":948.5,"y":26.3},{"x":945,"y":25.4},{"x":940,"y":24.2},{"x":935,"y":23},{"x":934.5,"y":23.15},{"x":934,"y":24.2},{"x":933.5,"y":27.9},{"x":933,"y":37.1},{"x":932.5,"y":52.1},{"x":932,"y":66.7},{"x":931.5,"y":70.9},{"x":931,"y":61.2},{"x":930.5,"y":45.1},{"x":930,"y":31.9},{"x":929.5,"y":24.9},{"x":929,"y":22.3},{"x":928.5,"y":21.6},{"x":928,"y":21.34},{"x":926.6,"y":21}],
"d3_raw":[{"x":960,"y":29.5},{"x":959.5,"y":28.5},{"x":959,"y":28},{"x":958.5,"y":29},{"x":958,"y":30},{"x":957.5,"y":29},{"x":957,"y":28.5},{"x":956.5,"y":29.5},{"x":956,"y":30.5},{"x":955.5,"y":29.5},{"x":955,"y":29},{"x":954.5,"y":28},{"x":954,"y":29.5},{"x":953.5,"y":31.5},{"x":953,"y":35},{"x":952.5,"y":40},{"x":952,"y":47},{"x":951.5,"y":51},{"x":951,"y":46},{"x":950.5,"y":37},{"x":950,"y":30.5},{"x":949.5,"y":28.5},{"x":949,"y":27},{"x":948.5,"y":27},{"x":948,"y":26},{"x":947.5,"y":26.8},{"x":947,"y":27.5},{"x":946.5,"y":26},{"x":946,"y":25.5},{"x":945.5,"y":26.2},{"x":945,"y":26.5},{"x":944.5,"y":25.5},{"x":944,"y":25},{"x":943.5,"y":25.8},{"x":943,"y":26},{"x":942.5,"y":25},{"x":942,"y":24.5},{"x":941.5,"y":25.2},{"x":941,"y":25.5},{"x":940.5,"y":24.5},{"x":940,"y":24},{"x":939.5,"y":24.8},{"x":939,"y":25},{"x":938.5,"y":24},{"x":938,"y":23.5},{"x":937.5,"y":24.2},{"x":937,"y":24.5},{"x":936.5,"y":23.5},{"x":936,"y":23},{"x":935.5,"y":23.5},{"x":935,"y":24},{"x":934.5,"y":26},{"x":934,"y":27.5},{"x":933.5,"y":29},{"x":933,"y":36.5},{"x":932.5,"y":51.5},{"x":932,"y":67.5},{"x":931.5,"y":72},{"x":931,"y":60},{"x":930.5,"y":44},{"x":930,"y":33},{"x":929.5,"y":26},{"x":929,"y":23},{"x":928.5,"y":22.5},{"x":928,"y":22},{"x":927.5,"y":22.5},{"x":927,"y":22.5},{"x":926.6,"y":21.5}],
"d3_dash":[{"x":951.56,"y":59.4,"y2":25.8},{"x":931.6,"y":74.2,"y2":27}],
"d3_text":[{"k":"ttl","x":959.64,"y":86,"t":"CNS3  + CO₂"},{"k":"lab","x":953.39,"y":61.3,"t":"951.6"},{"k":"lab","x":934.22,"y":80.6,"t":"931.8"}]
},
"spacing":-2,
"resolve":{"scale":{"color":"independent"}},
"vconcat":[
{"spacing":2,"resolve":{"scale":{"color":"independent"}},"hconcat":[
 {"columns":2,"spacing":0,"bounds":"flush","align":"each","resolve":{"scale":{"color":"independent"}},"concat":[
   {"width":111,"height":74,
    "encoding":{"x":{"field":"x","type":"quantitative","scale":{"domain":[280.7,294.7],"reverse":true,"nice":false,"zero":false},"axis":null},
     "y":{"field":"y","type":"quantitative","scale":{"domain":[0,100],"nice":false,"zero":false},"axis":{"labels":false,"ticks":false,"title":"Intensity (a.u.)","titleFontSize":4.3,"titlePadding":2}}},
    "layer":[
     {"data":{"name":"a1_comp"},"mark":"line","encoding":{"color":{"field":"s","type":"nominal","scale":{"domain":["bg","CO","CC"],"range":["#3aab3a","#27a327","#1f3dff"]},"legend":null}}},
     {"data":{"name":"a1_fit"},"mark":{"type":"line","color":"#8b2fc9","strokeWidth":1.1},"encoding":{}},
     {"data":{"name":"a1_dash"},"mark":"rule","encoding":{"y2":{"field":"y2"}}},
     {"data":{"name":"a1_text"},"transform":[{"filter":"datum.k=='lab'"}],"mark":{"type":"text","fontSize":4.4},"encoding":{"text":{"field":"t"}}},
     {"data":{"name":"a1_text"},"transform":[{"filter":"datum.k=='ttl'"}],"mark":{"type":"text","fontSize":5,"align":"left"},"encoding":{"text":{"field":"t"}}},
     {"data":{"name":"a1_text"},"transform":[{"filter":"datum.k=='rt'"}],"mark":{"type":"text","fontSize":5.5,"align":"right"},"encoding":{"text":{"field":"t"}}},
     {"data":{"name":"a1_text"},"transform":[{"filter":"datum.k=='small'"}],"mark":{"type":"text","fontSize":2.8},"encoding":{"text":{"field":"t"}}},
     {"data":{"name":"a1_text"},"transform":[{"filter":"datum.k=='letter'"}],"mark":{"type":"text","fontSize":16,"fontWeight":"normal","baseline":"alphabetic"},"encoding":{"text":{"field":"t"}}}
    ]},
   {"width":111,"height":74,
    "encoding":{"x":{"field":"x","type":"quantitative","scale":{"domain":[280.7,294.7],"reverse":true,"nice":false,"zero":false},"axis":null},
     "y":{"field":"y","type":"quantitative","scale":{"domain":[0,100],"nice":false,"zero":false},"axis":null}},
    "layer":[
     {"data":{"name":"a2_comp"},"mark":"line","encoding":{"color":{"field":"s","type":"nominal","scale":{"domain":["bg","CO","CC"],"range":["#3aab3a","#1f3dff","#ee2222"]},"legend":null}}},
     {"data":{"name":"a2_fit"},"mark":{"type":"line","color":"#111","strokeWidth":1},"encoding":{}},
     {"data":{"name":"a2_dash"},"mark":"rule","encoding":{"y2":{"field":"y2"}}},
     {"data":{"name":"a2_text"},"transform":[{"filter":"datum.k=='lab'"}],"mark":{"type":"text","fontSize":4.4},"encoding":{"text":{"field":"t"}}},
     {"data":{"name":"a2_text"},"transform":[{"filter":"datum.k=='ttl'"}],"mark":{"type":"text","fontSize":5,"align":"left"},"encoding":{"text":{"field":"t"}}}
    ]},
   {"width":111,"height":74.6,
    "encoding":{"x":{"field":"x","type":"quantitative","scale":{"domain":[280.7,294.7],"reverse":true,"nice":false,"zero":false},"axis":{"values":[294,292,290,288,286,284,282],"labelFontSize":3.2,"tickSize":2.5,"labelPadding":0.5,"labelFlush":false,"labelOverlap":false,"title":"Binding Energy (eV)","titleFontSize":4.6,"titlePadding":3.5}},
     "y":{"field":"y","type":"quantitative","scale":{"domain":[0,100],"nice":false,"zero":false},"axis":{"labels":false,"ticks":false,"title":"Intensity (a.u.)","titleFontSize":4.3,"titlePadding":2}}},
    "layer":[
     {"data":{"name":"a3_comp"},"mark":"line","encoding":{"color":{"field":"s","type":"nominal","scale":{"domain":["bg","C=O","CO","CC"],"range":["#3aab3a","#ff33dd","#1f3dff","#ee2222"]},"legend":null}}},
     {"data":{"name":"a3_fit"},"mark":{"type":"line","color":"#1c1c78","strokeWidth":1.1},"encoding":{}},
     {"data":{"name":"a3_dash"},"mark":"rule","encoding":{"y2":{"field":"y2"}}},
     {"data":{"name":"a3_text"},"transform":[{"filter":"datum.k=='lab'"}],"mark":{"type":"text","fontSize":4.4},"encoding":{"text":{"field":"t"}}},
     {"data":{"name":"a3_text"},"transform":[{"filter":"datum.k=='ttl'"}],"mark":{"type":"text","fontSize":5,"align":"left"},"encoding":{"text":{"field":"t"}}}
    ]},
   {"width":111,"height":74.6,
    "encoding":{"x":{"field":"x","type":"quantitative","scale":{"domain":[280.7,294.7],"reverse":true,"nice":false,"zero":false},"axis":{"values":[294,292,290,288,286,284,282],"labelFontSize":3.2,"tickSize":2.5,"labelPadding":0.5,"labelFlush":false,"labelOverlap":false,"title":"Binding Energy (eV)","titleFontSize":4.6,"titlePadding":3.5}},
     "y":{"field":"y","type":"quantitative","scale":{"domain":[0,100],"nice":false,"zero":false},"axis":null}},
    "layer":[
     {"data":{"name":"a4_comp"},"mark":"line","encoding":{"color":{"field":"s","type":"nominal","scale":{"domain":["bg","C=O","CO","CC"],"range":["#3aab3a","#ff33dd","#ee2222","#1f3dff"]},"legend":null}}},
     {"data":{"name":"a4_fit"},"mark":{"type":"line","color":"#1c1c78","strokeWidth":1.1},"encoding":{}},
     {"data":{"name":"a4_dash"},"mark":"rule","encoding":{"y2":{"field":"y2"}}},
     {"data":{"name":"a4_text"},"transform":[{"filter":"datum.k=='lab'"}],"mark":{"type":"text","fontSize":4.4},"encoding":{"text":{"field":"t"}}},
     {"data":{"name":"a4_text"},"transform":[{"filter":"datum.k=='ttl'"}],"mark":{"type":"text","fontSize":5,"align":"left"},"encoding":{"text":{"field":"t"}}}
    ]}
 ]},
 {"columns":2,"spacing":0,"bounds":"flush","align":"each","resolve":{"scale":{"color":"independent"}},"concat":[
   {"width":106.5,"height":74,
    "encoding":{"x":{"field":"x","type":"quantitative","scale":{"domain":[527,536],"reverse":true,"nice":false,"zero":false},"axis":null},
     "y":{"field":"y","type":"quantitative","scale":{"domain":[0,100],"nice":false,"zero":false},"axis":{"labels":false,"ticks":false,"title":"Intensity (a.u.)","titleFontSize":5.4,"titlePadding":2}}},
    "layer":[
     {"data":{"name":"b1_comp"},"mark":"line","encoding":{"color":{"field":"s","type":"nominal","scale":{"domain":["bg","O532","O530","O529"],"range":["#3aab3a","#3aab3a","#3050ff","#ff2020"]},"legend":null}}},
     {"data":{"name":"b1_fit"},"mark":{"type":"line","color":"#1c2a80","strokeWidth":1.1},"encoding":{}},
     {"data":{"name":"b1_dash"},"mark":"rule","encoding":{"y2":{"field":"y2"}}},
     {"data":{"name":"b1_text"},"transform":[{"filter":"datum.k=='lab'"}],"mark":{"type":"text","fontSize":5.2},"encoding":{"text":{"field":"t"}}},
     {"data":{"name":"b1_text"},"transform":[{"filter":"datum.k=='ttl'"}],"mark":{"type":"text","fontSize":5.5,"align":"left"},"encoding":{"text":{"field":"t"}}},
     {"data":{"name":"b1_text"},"transform":[{"filter":"datum.k=='rt'"}],"mark":{"type":"text","fontSize":5.5,"align":"right"},"encoding":{"text":{"field":"t"}}},
     {"data":{"name":"b1_text"},"transform":[{"filter":"datum.k=='letter'"}],"mark":{"type":"text","fontSize":16,"fontWeight":"normal","baseline":"alphabetic"},"encoding":{"text":{"field":"t"}}}
    ]},
   {"width":106.3,"height":74,
    "encoding":{"x":{"field":"x","type":"quantitative","scale":{"domain":[527,536],"reverse":true,"nice":false,"zero":false},"axis":null},
     "y":{"field":"y","type":"quantitative","scale":{"domain":[0,100],"nice":false,"zero":false},"axis":null}},
    "layer":[
     {"data":{"name":"b2_comp"},"mark":"line","encoding":{"color":{"field":"s","type":"nominal","scale":{"domain":["bg","O532","O530","O529"],"range":["#3aab3a","#ff40ff","#3050ff","#ff2020"]},"legend":null}}},
     {"data":{"name":"b2_fit"},"mark":{"type":"line","color":"#1c2a80","strokeWidth":1.1},"encoding":{}},
     {"data":{"name":"b2_dash"},"mark":"rule","encoding":{"y2":{"field":"y2"}}},
     {"data":{"name":"b2_text"},"transform":[{"filter":"datum.k=='lab'"}],"mark":{"type":"text","fontSize":5.2},"encoding":{"text":{"field":"t"}}},
     {"data":{"name":"b2_text"},"transform":[{"filter":"datum.k=='ttl'"}],"mark":{"type":"text","fontSize":5.5,"align":"left"},"encoding":{"text":{"field":"t"}}}
    ]},
   {"width":106.5,"height":74,
    "encoding":{"x":{"field":"x","type":"quantitative","scale":{"domain":[527,536],"reverse":true,"nice":false,"zero":false},"axis":{"values":[536,535,534,533,532,531,530,529,528,527],"labelFontSize":3.4,"tickSize":2.5,"labelPadding":1.5,"labelFlush":true,"labelOverlap":false,"title":"Binding energy (eV)","titleFontSize":6,"titlePadding":0.6}},
     "y":{"field":"y","type":"quantitative","scale":{"domain":[0,100],"nice":false,"zero":false},"axis":{"labels":false,"ticks":false,"title":"Intensity (a.u.)","titleFontSize":5.4,"titlePadding":2}}},
    "layer":[
     {"data":{"name":"b3_comp"},"mark":"line","encoding":{"color":{"field":"s","type":"nominal","scale":{"domain":["bg","O532","O530","O529"],"range":["#3aab3a","#3050ff","#ff40ff","#ff2020"]},"legend":null}}},
     {"data":{"name":"b3_fit"},"mark":{"type":"line","color":"#1c2a80","strokeWidth":1.1},"encoding":{}},
     {"data":{"name":"b3_dash"},"mark":"rule","encoding":{"y2":{"field":"y2"}}},
     {"data":{"name":"b3_text"},"transform":[{"filter":"datum.k=='lab'"}],"mark":{"type":"text","fontSize":5.2},"encoding":{"text":{"field":"t"}}},
     {"data":{"name":"b3_text"},"transform":[{"filter":"datum.k=='ttl'"}],"mark":{"type":"text","fontSize":5.5,"align":"left"},"encoding":{"text":{"field":"t"}}}
    ]},
   {"width":106.3,"height":74,
    "encoding":{"x":{"field":"x","type":"quantitative","scale":{"domain":[527,536],"reverse":true,"nice":false,"zero":false},"axis":{"values":[536,535,534,533,532,531,530,529,528,527],"labelFontSize":3.4,"tickSize":2.5,"labelPadding":1.5,"labelFlush":true,"labelOverlap":false,"title":"Binding energy (eV)","titleFontSize":6,"titlePadding":0.6}},
     "y":{"field":"y","type":"quantitative","scale":{"domain":[0,100],"nice":false,"zero":false},"axis":null}},
    "layer":[
     {"data":{"name":"b4_comp"},"mark":"line","encoding":{"color":{"field":"s","type":"nominal","scale":{"domain":["bg","O532","O530","O529"],"range":["#3aab3a","#3050ff","#ff40ff","#ff2020"]},"legend":null}}},
     {"data":{"name":"b4_fit"},"mark":{"type":"line","color":"#1c2a80","strokeWidth":1.1},"encoding":{}},
     {"data":{"name":"b4_dash"},"mark":"rule","encoding":{"y2":{"field":"y2"}}},
     {"data":{"name":"b4_text"},"transform":[{"filter":"datum.k=='lab'"}],"mark":{"type":"text","fontSize":5.2},"encoding":{"text":{"field":"t"}}},
     {"data":{"name":"b4_text"},"transform":[{"filter":"datum.k=='ttl'"}],"mark":{"type":"text","fontSize":5.5,"align":"left"},"encoding":{"text":{"field":"t"}}}
    ]}
 ]}
]},
{"spacing":1.3,"resolve":{"scale":{"color":"independent"}},"hconcat":[
 {"columns":2,"spacing":0,"bounds":"flush","align":"each","concat":[
   {"width":111,"height":74,
    "encoding":{"x":{"field":"x","type":"quantitative","scale":{"domain":[454,467],"reverse":true,"nice":false,"zero":false},"axis":null},
     "y":{"field":"y","type":"quantitative","scale":{"domain":[0,100],"nice":false,"zero":false},"axis":{"labels":false,"ticks":false,"title":"Intensity (a.u.)","titleFontSize":4.3,"titlePadding":3}}},
    "layer":[
     {"data":{"name":"c1_bg"},"mark":{"type":"line","color":"#ff44ee"},"encoding":{}},
     {"data":{"name":"c1_fit"},"mark":{"type":"line","color":"#111","strokeWidth":1.7},"encoding":{}},
     {"data":{"name":"c1_fit"},"mark":{"type":"line","color":"#3a9a3a","strokeWidth":0.9},"encoding":{}},
     {"data":{"name":"c1_dash"},"mark":"rule","encoding":{"y2":{"field":"y2"}}},
     {"data":{"name":"c1_text"},"transform":[{"filter":"datum.k=='lab'"}],"mark":{"type":"text","fontSize":4.4},"encoding":{"text":{"field":"t"}}},
     {"data":{"name":"c1_text"},"transform":[{"filter":"datum.k=='ttl'"}],"mark":{"type":"text","fontSize":5.2,"align":"left"},"encoding":{"text":{"field":"t"}}},
     {"data":{"name":"c1_text"},"transform":[{"filter":"datum.k=='letter'"}],"mark":{"type":"text","fontSize":16,"fontWeight":"normal","baseline":"alphabetic"},"encoding":{"text":{"field":"t"}}}
    ]},
   {"width":111.5,"height":74,
    "encoding":{"x":{"field":"x","type":"quantitative","scale":{"domain":[454,467],"reverse":true,"nice":false,"zero":false},"axis":null},
     "y":{"field":"y","type":"quantitative","scale":{"domain":[0,100],"nice":false,"zero":false},"axis":null}},
    "layer":[
     {"data":{"name":"c2_bg"},"mark":{"type":"line","color":"#ff44ee"},"encoding":{}},
     {"data":{"name":"c2_fit"},"mark":{"type":"line","color":"#111","strokeWidth":1.7},"encoding":{}},
     {"data":{"name":"c2_fit"},"mark":{"type":"line","color":"#3a9a3a","strokeWidth":0.9},"encoding":{}},
     {"data":{"name":"c2_dash"},"mark":"rule","encoding":{"y2":{"field":"y2"}}},
     {"data":{"name":"c2_text"},"transform":[{"filter":"datum.k=='lab'"}],"mark":{"type":"text","fontSize":4.4},"encoding":{"text":{"field":"t"}}},
     {"data":{"name":"c2_text"},"transform":[{"filter":"datum.k=='ttl'"}],"mark":{"type":"text","fontSize":5.2,"align":"left"},"encoding":{"text":{"field":"t"}}}
    ]},
   {"width":111,"height":79.7,
    "encoding":{"x":{"field":"x","type":"quantitative","scale":{"domain":[454,467],"reverse":true,"nice":false,"zero":false},"axis":{"values":[466,464,462,460,458,456,454],"labelFontSize":3.6,"tickSize":2.5,"labelPadding":1,"labelFlush":true,"labelOverlap":false,"title":"Binding Energy (eV)","titleFontSize":4.8,"titlePadding":2.5}},
     "y":{"field":"y","type":"quantitative","scale":{"domain":[0,100],"nice":false,"zero":false},"axis":{"labels":false,"ticks":false,"title":"Intensity (a.u.)","titleFontSize":4.3,"titlePadding":3}}},
    "layer":[
     {"data":{"name":"c3_bg"},"mark":{"type":"line","color":"#ff44ee"},"encoding":{}},
     {"data":{"name":"c3_fit"},"mark":{"type":"line","color":"#111","strokeWidth":1.7},"encoding":{}},
     {"data":{"name":"c3_fit"},"mark":{"type":"line","color":"#3a9a3a","strokeWidth":0.9},"encoding":{}},
     {"data":{"name":"c3_dash"},"mark":"rule","encoding":{"y2":{"field":"y2"}}},
     {"data":{"name":"c3_text"},"transform":[{"filter":"datum.k=='lab'"}],"mark":{"type":"text","fontSize":4.4},"encoding":{"text":{"field":"t"}}},
     {"data":{"name":"c3_text"},"transform":[{"filter":"datum.k=='ttl'"}],"mark":{"type":"text","fontSize":5.2,"align":"left"},"encoding":{"text":{"field":"t"}}}
    ]},
   {"width":111.5,"height":79.7,
    "encoding":{"x":{"field":"x","type":"quantitative","scale":{"domain":[454,467],"reverse":true,"nice":false,"zero":false},"axis":{"values":[466,464,462,460,458,456,454],"labelFontSize":3.6,"tickSize":2.5,"labelPadding":1,"labelFlush":true,"labelOverlap":false,"title":"Binding Energy (eV)","titleFontSize":4.8,"titlePadding":2.5}},
     "y":{"field":"y","type":"quantitative","scale":{"domain":[0,100],"nice":false,"zero":false},"axis":null}},
    "layer":[
     {"data":{"name":"c4_bg"},"mark":{"type":"line","color":"#ff44ee"},"encoding":{}},
     {"data":{"name":"c4_fit"},"mark":{"type":"line","color":"#111","strokeWidth":1.7},"encoding":{}},
     {"data":{"name":"c4_fit"},"mark":{"type":"line","color":"#3a9a3a","strokeWidth":0.9},"encoding":{}},
     {"data":{"name":"c4_dash"},"mark":"rule","encoding":{"y2":{"field":"y2"}}},
     {"data":{"name":"c4_text"},"transform":[{"filter":"datum.k=='lab'"}],"mark":{"type":"text","fontSize":4.4},"encoding":{"text":{"field":"t"}}},
     {"data":{"name":"c4_text"},"transform":[{"filter":"datum.k=='ttl'"}],"mark":{"type":"text","fontSize":5.2,"align":"left"},"encoding":{"text":{"field":"t"}}}
    ]}
 ]},
 {"spacing":0,"bounds":"flush","vconcat":[
  {"width":213,"height":52,
   "encoding":{"x":{"field":"x","type":"quantitative","scale":{"domain":[926.6,960],"reverse":true,"nice":false,"zero":false},"axis":null},
    "y":{"field":"y","type":"quantitative","scale":{"domain":[0,100],"nice":false,"zero":false},"axis":null}},
   "layer":[
    {"data":{"name":"d1_bg"},"mark":{"type":"line","color":"#ff44ee"},"encoding":{}},
    {"data":{"name":"d1_raw"},"mark":{"type":"line","color":"#222","strokeWidth":0.7,"interpolate":"linear"},"encoding":{}},
    {"data":{"name":"d1_fit"},"mark":{"type":"line","color":"#2ea52e","strokeWidth":1.1},"encoding":{}},
    {"data":{"name":"d1_dash"},"mark":"rule","encoding":{"y2":{"field":"y2"}}},
    {"data":{"name":"d1_text"},"transform":[{"filter":"datum.k=='lab'"}],"mark":{"type":"text","fontSize":5.8},"encoding":{"text":{"field":"t"}}},
    {"data":{"name":"d1_text"},"transform":[{"filter":"datum.k=='ttl'"}],"mark":{"type":"text","fontSize":6,"align":"left"},"encoding":{"text":{"field":"t"}}},
    {"data":{"name":"d1_text"},"transform":[{"filter":"datum.k=='rt'"}],"mark":{"type":"text","fontSize":6,"align":"right"},"encoding":{"text":{"field":"t"}}},
    {"data":{"name":"d1_text"},"transform":[{"filter":"datum.k=='letter'"}],"mark":{"type":"text","fontSize":19,"fontWeight":"normal","baseline":"alphabetic"},"encoding":{"text":{"field":"t"}}}
   ]},
  {"width":213,"height":49,
   "encoding":{"x":{"field":"x","type":"quantitative","scale":{"domain":[926.6,960],"reverse":true,"nice":false,"zero":false},"axis":null},
    "y":{"field":"y","type":"quantitative","scale":{"domain":[0,100],"nice":false,"zero":false},"axis":{"labels":false,"ticks":false,"title":"Intensity (a.u.)","titleFontSize":5.8,"titlePadding":1}}},
   "layer":[
    {"data":{"name":"d2_bg"},"mark":{"type":"line","color":"#ff44ee"},"encoding":{}},
    {"data":{"name":"d2_raw"},"mark":{"type":"line","color":"#222","strokeWidth":0.7,"interpolate":"linear"},"encoding":{}},
    {"data":{"name":"d2_fit"},"mark":{"type":"line","color":"#2ea52e","strokeWidth":1.1},"encoding":{}},
    {"data":{"name":"d2_dash"},"mark":"rule","encoding":{"y2":{"field":"y2"}}},
    {"data":{"name":"d2_text"},"transform":[{"filter":"datum.k=='lab'"}],"mark":{"type":"text","fontSize":5.8},"encoding":{"text":{"field":"t"}}},
    {"data":{"name":"d2_text"},"transform":[{"filter":"datum.k=='ttl'"}],"mark":{"type":"text","fontSize":6,"align":"left"},"encoding":{"text":{"field":"t"}}}
   ]},
  {"width":213,"height":52.6,
   "encoding":{"x":{"field":"x","type":"quantitative","scale":{"domain":[926.6,960],"reverse":true,"nice":false,"zero":false},"axis":{"values":[960,955,950,945,940,935,930],"labelFontSize":4.6,"tickSize":2,"labelPadding":0.4,"labelFlush":false,"labelOverlap":false,"title":"Binding Energe (eV)","titleFontSize":4.8,"titlePadding":2}},
    "y":{"field":"y","type":"quantitative","scale":{"domain":[0,100],"nice":false,"zero":false},"axis":null}},
   "layer":[
    {"data":{"name":"d3_bg"},"mark":{"type":"line","color":"#ff44ee"},"encoding":{}},
    {"data":{"name":"d3_raw"},"mark":{"type":"line","color":"#222","strokeWidth":0.7,"interpolate":"linear"},"encoding":{}},
    {"data":{"name":"d3_fit"},"mark":{"type":"line","color":"#2ea52e","strokeWidth":1.1},"encoding":{}},
    {"data":{"name":"d3_dash"},"mark":"rule","encoding":{"y2":{"field":"y2"}}},
    {"data":{"name":"d3_text"},"transform":[{"filter":"datum.k=='lab'"}],"mark":{"type":"text","fontSize":5.8},"encoding":{"text":{"field":"t"}}},
    {"data":{"name":"d3_text"},"transform":[{"filter":"datum.k=='ttl'"}],"mark":{"type":"text","fontSize":6,"align":"left"},"encoding":{"text":{"field":"t"}}}
   ]}
 ]}
]}
]
}
